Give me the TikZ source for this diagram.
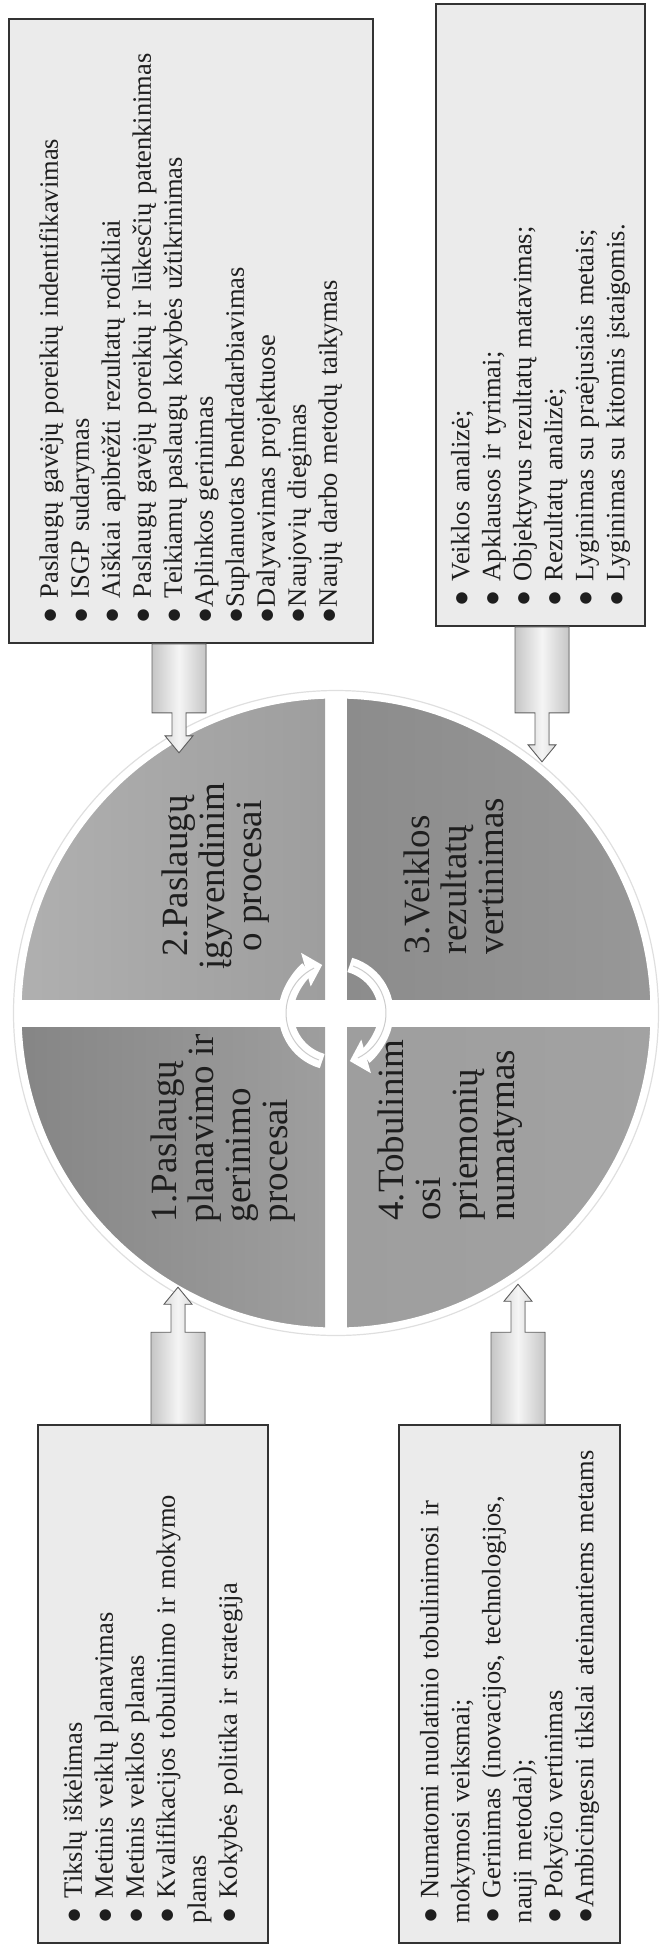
\documentclass[tikz,border=0pt]{standalone}
\usepackage{fontspec}
\setmainfont{Liberation Serif}
\usetikzlibrary{calc,arrows.meta}

\definecolor{boxgray}{HTML}{EBEBEB}
\definecolor{qdark}{HTML}{8C8C8C}
\definecolor{qmid}{HTML}{9E9E9E}
\definecolor{qlight}{HTML}{B0B0B0}
\definecolor{inkgray}{HTML}{1E1E1E}

\tikzset{
  infobox/.style={draw=black!80, line width=1.6pt, fill=boxgray, rotate=90, inner sep=0pt,
    align=left, text=inkgray, font=\fontsize{26.5}{31}\selectfont},
  quadtext/.style={rotate=90, text=inkgray, font=\fontsize{37}{37}\selectfont},
  arrowbody/.style={draw=gray!75!black, line width=0.9pt, left color=gray!45, right color=gray!45, middle color=gray!8},
  cyc/.style={white, line width=15pt, -{Triangle[width=34pt,length=17pt]}},
  pics/feed/.style 2 args={code={
    \filldraw[arrowbody] (-27,0) -- (27,0) -- (27,#1) -- (7,#1) -- (7,#1+#2) -- (14,#1+#2)
      -- (0,#1+#2+17) -- (-14,#1+#2) -- (-7,#1+#2) -- (-7,#1) -- (-27,#1) -- cycle;
  }}
}

\begin{document}
\begin{tikzpicture}[x=1pt,y=-1pt]
\useasboundingbox (0,0) rectangle (661,1947);
\coordinate (ctr) at (336,1013);

% the four parts of the cycle
\begin{scope}
\clip (ctr) circle (315);
\shade[left color=qlight, right color=qmid] ($(ctr)+(-320,-320)$) rectangle ($(ctr)+(-11,-14)$);
\shade[left color=qdark, right color=qdark!90!white] ($(ctr)+(11,-320)$) rectangle ($(ctr)+(320,-14)$);
\shade[left color=qdark!95!black, right color=qmid] ($(ctr)+(-320,14)$) rectangle ($(ctr)+(-11,320)$);
\shade[left color=qmid, right color=qlight!92!black] ($(ctr)+(11,14)$) rectangle ($(ctr)+(320,320)$);
\end{scope}
\draw[white, line width=7pt] (ctr) circle (318);
\draw[gray!25, line width=1.2pt] (ctr) circle (322.5);

% turning arrows in the middle
\foreach \a/\b/\c/\d in {106/254/110/244, -74/74/-70/64} {
  \draw[cyc] ($(ctr)+(\a:50)$) arc[start angle=\a, end angle=\b, radius=50];
  \draw[gray!40, line width=1pt] ($(ctr)+(\c:50)$) arc[start angle=\c, end angle=\d, radius=50];
}

\node[quadtext, align=center] (igyvq) at (216,876) {2.Paslaugų\\įgyvendinim\\o procesai};
\node[quadtext, align=left] (vertq) at (454,876) {3.Veiklos\\rezultatų\\vertinimas};
\node[quadtext, align=left] (planq) at (223,1128) {1.Paslaugų\\planavimo ir\\gerinimo\\procesai};
\node[quadtext, align=left] (tobq) at (450,1130) {4.Tobulinim\\osi\\priemonių\\numatymas};

% boxes
\node[infobox, minimum width=624pt, minimum height=364pt, text width=584pt] (gavbox) at (191,331) {%
● Paslaugų gavėjų poreikių indentifikavimas\\
● ISGP sudarymas\\
● Aiškiai apibrėžti rezultatų rodikliai\\
● Paslaugų gavėjų poreikių ir lūkesčių patenkinimas\\
● Teikiamų paslaugų kokybės užtikrinimas\\
●Aplinkos gerinimas\\
●Suplanuotas bendradarbiavimas\\
●Dalyvavimas projektuose\\
●Naujovių diegimas\\
●Naujų darbo metodų taikymas};
\node[infobox, minimum width=622pt, minimum height=209pt, text width=582pt] (vertbox) at (540.5,315) {%
● Veiklos analizė;\\
● Apklausos ir tyrimai;\\
● Objektyvus rezultatų matavimas;\\
● Rezultatų analizė;\\
● Lyginimas su praėjusiais metais;\\
● Lyginimas su kitomis įstaigomis.};
\node[infobox, minimum width=518pt, minimum height=230pt, text width=478pt] (planbox) at (153,1684) {%
● Tikslų iškėlimas\\
● Metinis veiklų planavimas\\
● Metinis veiklos planas\\
● Kvalifikacijos tobulinimo ir mokymo\\
planas\\
● Kokybės politika ir strategija};
\node[infobox, minimum width=518pt, minimum height=221pt, text width=478pt] (tobbox) at (509.5,1684) {%
● Numatomi nuolatinio tobulinimosi ir\\
mokymosi veiksmai;\\
● Gerinimas (inovacijos, technologijos,\\
nauji metodai);\\
● Pokyčio vertinimas\\
●Ambicingesni tikslai ateinantiems metams};

% arrows from the boxes
\pic at ($(gavbox.west)+(-12,0)$) {feed={69}{23}};
\pic at ($(vertbox.west)+(1.5,0)$) {feed={86}{32}};
\pic[yscale=-1] at ($(planbox.east)+(25,0)$) {feed={92}{28}};
\pic[yscale=-1] at ($(tobbox.east)+(8.5,0)$) {feed={92}{31}};
\end{tikzpicture}
\end{document}
